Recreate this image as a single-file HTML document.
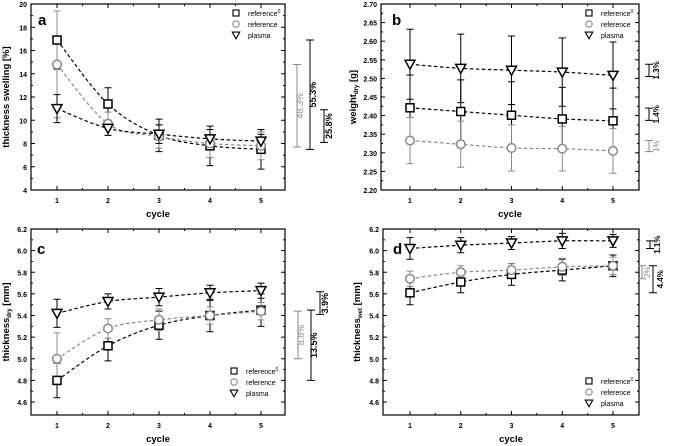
<!DOCTYPE html>
<html><head><meta charset="utf-8"><style>
html,body{margin:0;padding:0;background:#fff;}
svg{display:block;font-family:"Liberation Sans",Arial,sans-serif;}
</style></head><body>
<svg id="fig" width="685" height="446" viewBox="0 0 685 446" xmlns="http://www.w3.org/2000/svg"></svg>
<script>
const cycles=[1,2,3,4,5];
// panel a: thickness swelling [%]
const aRef0=[16.9,11.4,8.7,7.8,7.5];
const aRef0Err=[2.5,1.4,1.4,1.7,1.7];
const aRef=[14.8,9.7,8.6,8.0,7.8];
const aRefErr=[4.6,1.0,1.0,1.2,1.2];
const aPla=[11.0,9.3,8.8,8.4,8.2];
const aPlaErr=[1.2,0.6,0.8,0.8,0.6];
const aTicks=[4,6,8,10,12,14,16,18,20];
// panel b: weight dry [g]
const bRef0=[2.421,2.411,2.401,2.391,2.386];
const bRef0Err=[0.088,0.085,0.09,0.085,0.088];
const bRef=[2.333,2.323,2.313,2.311,2.305];
const bRefErr=[0.062,0.062,0.062,0.06,0.06];
const bPla=[2.538,2.527,2.522,2.517,2.508];
const bPlaErr=[0.094,0.092,0.092,0.092,0.09];
const bTicks=[2.20,2.25,2.30,2.35,2.40,2.45,2.50,2.55,2.60,2.65,2.70];
// panel c: thickness dry [mm]
const cRef0=[4.80,5.12,5.31,5.40,5.45];
const cRef0Err=[0.16,0.14,0.13,0.15,0.15];
const cRef=[5.00,5.28,5.36,5.40,5.44];
const cRefErr=[0.24,0.09,0.10,0.08,0.08];
const cPla=[5.42,5.53,5.57,5.61,5.63];
const cPlaErr=[0.13,0.07,0.08,0.07,0.07];
// panel d: thickness wet [mm]
const dRef0=[5.61,5.71,5.78,5.82,5.86];
const dRef0Err=[0.11,0.10,0.10,0.10,0.10];
const dRef=[5.74,5.80,5.82,5.85,5.86];
const dRefErr=[0.07,0.06,0.06,0.08,0.08];
const dPla=[6.02,6.05,6.07,6.09,6.09];
const dPlaErr=[0.10,0.07,0.06,0.07,0.06];
const cdTicks=[4.6,4.8,5.0,5.2,5.4,5.6,5.8,6.0,6.2];

const NS="http://www.w3.org/2000/svg";
const svg=document.getElementById('fig');
function mk(tag,attrs,parent,text){const e=document.createElementNS(NS,tag);for(const k in attrs)e.setAttribute(k,attrs[k]);if(text!==undefined)e.textContent=text;(parent||svg).appendChild(e);return e;}
const GRAY='#8a8a8a';

function smooth(pts){let d=`M${pts[0][0]},${pts[0][1]}`;for(let i=0;i<pts.length-1;i++){const p0=pts[i-1]||pts[i],p1=pts[i],p2=pts[i+1],p3=pts[i+2]||p2;
d+=` C${p1[0]+(p2[0]-p0[0])/6},${p1[1]+(p2[1]-p0[1])/6} ${p2[0]-(p3[0]-p1[0])/6},${p2[1]-(p3[1]-p1[1])/6} ${p2[0]},${p2[1]}`;}return d;}

function panel(cfg){
  const g=mk('g',{});
  
  
  const {L,R,T,B,ymin,ymax,x1,x5}=cfg;
  const X=c=>x1+(c-1)*(x5-x1)/4;
  const Y=v=>B-(v-ymin)/(ymax-ymin)*(B-T);
  const frame=mk('rect',{x:L,y:T,width:R-L,height:B-T,fill:'none',stroke:'#000','stroke-width':1.2},g);
  
  // y ticks
  const tk=cfg.ticks;const step=tk[1]-tk[0];
  for(let i=0;i<tk.length;i++){
    const y=Y(tk[i]);
    mk('line',{x1:L,x2:L+4,y1:y,y2:y,stroke:'#000'},g);
    mk('line',{x1:R,x2:R-4,y1:y,y2:y,stroke:'#000'},g);
    const t=mk('text',{x:L-4,y:y+3,'text-anchor':'end','font-size':7,'font-weight':'bold'},g,tk[i].toFixed(cfg.dec));
    
    if(i<tk.length-1){const ym=Y(tk[i]+step/2);mk('line',{x1:L,x2:L+2,y1:ym,y2:ym,stroke:'#000'},g);mk('line',{x1:R,x2:R-2,y1:ym,y2:ym,stroke:'#000'},g);}
  }
  for(const c of cycles){
    const x=X(c);
    mk('line',{x1:x,x2:x,y1:B,y2:B-4,stroke:'#000'},g);
    mk('line',{x1:x,x2:x,y1:T,y2:T+4,stroke:'#000'},g);
    const t=mk('text',{x:x,y:B+13,'text-anchor':'middle','font-size':7,'font-weight':'bold'},g,String(c));
    
    if(c<5){const xm=X(c+0.5);mk('line',{x1:xm,x2:xm,y1:B,y2:B-2,stroke:'#000'},g);mk('line',{x1:xm,x2:xm,y1:T,y2:T+2,stroke:'#000'},g);}
  }
  const xt=mk('text',{x:(L+R)/2,y:B+27,'text-anchor':'middle','font-size':9.5,'font-weight':'bold'},g,'cycle');
  
  const yt=mk('text',{transform:`translate(${cfg.ytx},${(T+B)/2}) rotate(-90)`,'text-anchor':'middle','font-size':9.5,'font-weight':'bold'},g);
  
  yt.textContent=cfg.ytitle;
  if(cfg.ysub){const s=mk('tspan',{'font-size':6,dy:2},yt,cfg.ysub);const s2=mk('tspan',{dy:-2},yt,' '+cfg.yunit);}
  const lab=mk('text',{x:cfg.labX,y:cfg.labY,'font-size':15,'font-weight':'bold'},g,cfg.letter);
  
  // series
  const series=[
    {name:'reference0',vals:cfg.ref0,err:cfg.ref0Err,col:'#000',shape:'sq'},
    {name:'reference',vals:cfg.ref,err:cfg.refErr,col:GRAY,shape:'ci'},
    {name:'plasma',vals:cfg.pla,err:cfg.plaErr,col:'#000',shape:'tri'}];
  for(const s of series){
    const pts=cycles.map((c,i)=>[X(c),Y(s.vals[i])]);
    const ln=mk('path',{d:smooth(pts),fill:'none',stroke:s.col,'stroke-width':1.2,'stroke-dasharray':'3.5,2.5'},g);
    
  }
  for(const s of series){
    cycles.forEach((c,i)=>{
      const x=X(c),y=Y(s.vals[i]),yt2=Y(s.vals[i]+s.err[i]),yb=Y(s.vals[i]-s.err[i]);
      const eb=mk('path',{d:`M${x},${yt2}V${yb}M${x-3.5},${yt2}H${x+3.5}M${x-3.5},${yb}H${x+3.5}`,stroke:s.col,'stroke-width':1,fill:'none'},g);
      
    });
  }
  function marker(shape,x,y,col,parent){
    let m;
    if(shape==='sq')m=mk('rect',{x:x-4,y:y-4,width:8,height:8,fill:'#fff',stroke:col,'stroke-width':1.5},parent);
    else if(shape==='ci')m=mk('circle',{cx:x,cy:y,r:4.3,fill:'#fff',stroke:col,'stroke-width':1.5},parent);
    else m=mk('path',{d:`M${x-5},${y-4}H${x+5}L${x},${y+5}Z`,fill:'#fff',stroke:col,'stroke-width':1.5},parent);
    return m;
  }
  for(const s of series){
    cycles.forEach((c,i)=>{
      const m=marker(s.shape,X(c),Y(s.vals[i]),s.col,g);
      
    });
  }
  // legend
  const lg=mk('g',{},g);
  const labels=['reference','reference','plasma'];
  series.forEach((s,i)=>{
    const ly=cfg.legY+i*11;
    const m=marker(s.shape,cfg.legX,ly,'#000',lg);m.setAttribute('transform',`translate(${cfg.legX},${ly}) scale(0.75) translate(${-cfg.legX},${-ly})`);
    if(s.shape==='ci')m.setAttribute('stroke',GRAY);
    const t=mk('text',{x:cfg.legX+12,y:ly+3,'font-size':7},lg,labels[i]);
    if(i===0)mk('tspan',{'font-size':5,dy:-3},t,'0');
    
  });
  // annotations
  for(const a of cfg.ann){
    const y1=Y(a.v1),y2=Y(a.v2);
    const br=mk('path',{d:`M${a.x},${y1}V${y2}M${a.x-4},${y1}H${a.x+4}M${a.x-4},${y2}H${a.x+4}`,stroke:a.col,'stroke-width':1,fill:'none'},g);
    
    const t=mk('text',{transform:`translate(${a.tx},${(y1+y2)/2}) rotate(-90)`,'text-anchor':'middle','font-size':a.fs||9,'font-weight':a.col==='#000'?'bold':'normal',fill:a.col},g,a.label);
    
  }
}

panel({name:'panel-a',letter:'a',L:31,R:285,T:4,B:190,ymin:4,ymax:20,x1:57,x5:261,ticks:aTicks,dec:0,
  ytx:9,ytitle:'thickness swelling [%]',labX:38,labY:25,
  ref0:aRef0,ref0Err:aRef0Err,ref:aRef,refErr:aRefErr,pla:aPla,plaErr:aPlaErr,legX:236,legY:13,
  ann:[{x:297,v1:14.8,v2:7.7,col:GRAY,label:'48.3%',tx:303},{x:310,v1:16.9,v2:7.5,col:'#000',label:'55.3%',tx:316},{x:324,v1:10.9,v2:8.1,col:'#000',label:'25.8%',tx:332}]});
panel({name:'panel-b',letter:'b',L:381,R:639,T:4,B:190,ymin:2.20,ymax:2.70,x1:410,x5:613,ticks:bTicks,dec:2,
  ytx:356,ytitle:'weight',ysub:'dry',yunit:'[g]',labX:392,labY:25,
  ref0:bRef0,ref0Err:bRef0Err,ref:bRef,refErr:bRefErr,pla:bPla,plaErr:bPlaErr,legX:589,legY:13,
  ann:[{x:649,v1:2.538,v2:2.505,col:'#000',label:'1.3%',tx:659,fs:8},{x:649,v1:2.42,v2:2.387,col:'#000',label:'1.4%',tx:659,fs:8},{x:649,v1:2.333,v2:2.303,col:GRAY,label:'1%',tx:659,fs:8}]});
panel({name:'panel-c',letter:'c',L:31,R:285,T:229,B:415,ymin:4.48,ymax:6.2,x1:57,x5:261,ticks:cdTicks,dec:1,
  ytx:9,ytitle:'thickness',ysub:'dry',yunit:'[mm]',labX:37,labY:254,
  ref0:cRef0,ref0Err:cRef0Err,ref:cRef,refErr:cRefErr,pla:cPla,plaErr:cPlaErr,legX:234,legY:371,
  ann:[{x:320,v1:5.62,v2:5.41,col:'#000',label:'3.9%',tx:328},{x:298,v1:5.44,v2:5.0,col:GRAY,label:'8.8%',tx:304},{x:311,v1:5.45,v2:4.80,col:'#000',label:'13.5%',tx:317}]});
panel({name:'panel-d',letter:'d',L:383,R:639,T:229,B:415,ymin:4.48,ymax:6.2,x1:410,x5:613,ticks:cdTicks,dec:1,
  ytx:360,ytitle:'thickness',ysub:'wet',yunit:'[mm]',labX:393,labY:254,
  ref0:dRef0,ref0Err:dRef0Err,ref:dRef,refErr:dRefErr,pla:dPla,plaErr:dPlaErr,legX:589,legY:381,
  ann:[{x:650,v1:6.09,v2:6.02,col:'#000',label:'1.1%',tx:660,fs:8},{x:642,v1:5.86,v2:5.74,col:GRAY,label:'2%',tx:650,fs:8},{x:653,v1:5.86,v2:5.61,col:'#000',label:'4.4%',tx:663,fs:8}]});
</script>
</body></html>
